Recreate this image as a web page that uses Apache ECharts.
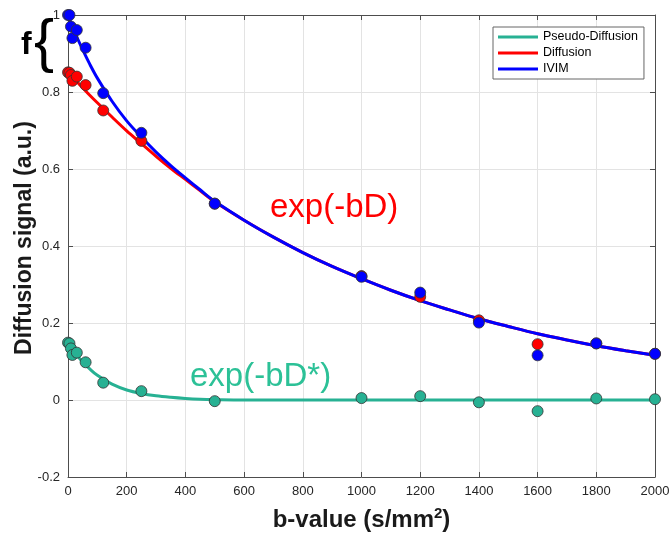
<!DOCTYPE html>
<html><head><meta charset="utf-8">
<script src="https://cdn.jsdelivr.net/npm/echarts@6/dist/echarts.min.js"></script>
<style>html,body{margin:0;padding:0;background:#fff}#c{width:672px;height:535px}</style>
</head><body><div id="c"></div><script>
// measured data points
const bValues = [0, 5, 10, 15, 30, 60, 120, 250, 500, 1000, 1200, 1400, 1600, 1800, 2000];
const ivimSignal = [1.0, 1.0, 0.97, 0.94, 0.961, 0.915, 0.797, 0.694, 0.51, 0.32, 0.279, 0.201, 0.116, 0.147, 0.12];
const diffusionSignal = [0.851, 0.85, 0.844, 0.829, 0.84, 0.818, 0.752, 0.673, 0.51, 0.322, 0.268, 0.207, 0.145, 0.147, 0.12];
const pseudoSignal = [0.149, 0.147, 0.134, 0.117, 0.123, 0.098, 0.045, 0.023, -0.003, 0.005, 0.01, -0.006, -0.029, 0.004, 0.002];
// fitted curves
const fitB = [0, 25, 50, 75, 100, 150, 200, 250, 300, 350, 400, 450, 500, 600, 700, 800, 900, 1000, 1100, 1200, 1300, 1400, 1500, 1600, 1700, 1800, 1900, 2000];
const fitIVIM = [1.0, 0.952, 0.910, 0.871, 0.836, 0.776, 0.725, 0.683, 0.644, 0.609, 0.577, 0.546, 0.516, 0.467, 0.423, 0.383, 0.347, 0.315, 0.285, 0.258, 0.234, 0.211, 0.191, 0.172, 0.156, 0.141, 0.128, 0.116];
const fitDiffusion = [0.852, 0.831, 0.811, 0.791, 0.772, 0.735, 0.699, 0.666, 0.633, 0.602, 0.573, 0.544, 0.515, 0.467, 0.423, 0.383, 0.347, 0.315, 0.285, 0.258, 0.234, 0.211, 0.191, 0.172, 0.156, 0.141, 0.128, 0.116];
const fitPseudo = [0.150, 0.121, 0.099, 0.080, 0.064, 0.041, 0.026, 0.017, 0.011, 0.007, 0.004, 0.002, 0.001, 0, 0, 0, 0, 0, 0, 0, 0, 0, 0, 0, 0, 0, 0, 0];
const seriesNames = ['Pseudo-Diffusion', 'Diffusion', 'IVIM'];
const xRange = [0, 2000, 200];
const yRange = [-0.2, 1, 0.2];

const C_TEAL = '#27b193', C_RED = '#ff0000', C_BLUE = '#0000ff';
const FONT = 'Liberation Sans, Arial, Helvetica, sans-serif';
const zip = (xs, ys) => xs.map((x, i) => [x, ys[i]]);

const chart = echarts.init(document.getElementById('c'), null, {renderer: 'canvas'});
const axisLine = {show: true, onZero: false, lineStyle: {color: '#4d4d4d', width: 1}};
const tick = {show: true, inside: true, length: 5, lineStyle: {color: '#4d4d4d'}};
const lineSeries = (name, data, color, z) => ({
  name, type: 'line', data, showSymbol: false, smooth: 0.35,
  lineStyle: {color, width: 3}, itemStyle: {color}, z, animation: false
});
const pointSeries = (name, data, color, z) => ({
  name, type: 'scatter', data, symbol: 'circle', symbolSize: 11,
  itemStyle: {color, borderColor: '#333', borderWidth: 0.8, opacity: 1}, z, animation: false
});

chart.setOption({
  animation: false,
  backgroundColor: '#fff',
  grid: {left: 68, right: 17, top: 15, bottom: 58, containLabel: false, outerBoundsMode: 'none'},
  xAxis: [{
    type: 'value', min: xRange[0], max: xRange[1], interval: xRange[2],
    name: '{a|b-value (s/mm}{s|2}{a|)}', nameLocation: 'middle', nameGap: 29, nameMoveOverlap: false,
    nameTextStyle: {rich: {
      a: {fontSize: 24, fontWeight: 'bold', fontFamily: FONT, color: '#1a1a1a', lineHeight: 28},
      s: {fontSize: 15, fontWeight: 'bold', fontFamily: FONT, color: '#1a1a1a', verticalAlign: 'top', lineHeight: 28}
    }},
    axisLine, axisTick: tick,
    axisLabel: {fontSize: 13, fontFamily: FONT, color: '#262626', margin: 8, formatter: v => String(v)},
    splitLine: {show: true, lineStyle: {color: '#e3e3e3', width: 1}}
  }, {
    type: 'value', position: 'top', min: xRange[0], max: xRange[1], interval: xRange[2],
    axisLine, axisTick: tick, axisLabel: {show: false}, splitLine: {show: false}
  }],
  yAxis: [{
    type: 'value', min: yRange[0], max: yRange[1], interval: yRange[2],
    name: 'Diffusion signal (a.u.)', nameLocation: 'middle', nameGap: 32, nameRotate: 90, nameMoveOverlap: false,
    nameTextStyle: {fontSize: 23, fontWeight: 'bold', fontFamily: FONT, color: '#1a1a1a', padding: [0, 0, 0, 16]},
    axisLine, axisTick: tick,
    axisLabel: {fontSize: 13, fontFamily: FONT, color: '#262626', margin: 8,
      formatter: v => String(Math.round(v * 10) / 10)},
    splitLine: {show: true, lineStyle: {color: '#e3e3e3', width: 1}}
  }, {
    type: 'value', position: 'right', min: yRange[0], max: yRange[1], interval: yRange[2],
    axisLine, axisTick: tick, axisLabel: {show: false}, splitLine: {show: false}
  }],
  legend: {
    data: seriesNames.map(n => ({name: n, icon: 'rect'})),
    orient: 'vertical', left: 493, top: 27,
    itemWidth: 40, itemHeight: 3, itemGap: 2,
    padding: [3, 6, 3, 5],
    borderColor: '#666', borderWidth: 1, backgroundColor: '#fff',
    textStyle: {fontSize: 12.5, fontFamily: FONT, color: '#000', lineHeight: 14},
    selectedMode: false
  },
  series: [
    lineSeries(seriesNames[0], zip(fitB, fitPseudo), C_TEAL, 2),
    lineSeries(seriesNames[1], zip(fitB, fitDiffusion), C_RED, 3),
    lineSeries(seriesNames[2], zip(fitB, fitIVIM), C_BLUE, 4),
    pointSeries('Diffusion data', zip(bValues, diffusionSignal), C_RED, 5),
    pointSeries('IVIM data', zip(bValues, ivimSignal), C_BLUE, 6),
    pointSeries('Pseudo-Diffusion data', zip(bValues, pseudoSignal), C_TEAL, 7)
  ],
  graphic: [
    {type: 'text', left: 270, top: 191, z: 10, style: {text: 'exp(-bD)', font: '33px ' + FONT, fill: '#ff0000'}},
    {type: 'text', left: 190, top: 360, z: 10, style: {text: 'exp(-bD*)', font: '33px ' + FONT, fill: '#2cc197'}},
    {type: 'text', left: 21, top: 29, z: 10, style: {text: 'f', font: 'bold 32px ' + FONT, fill: '#000'}},
    {type: 'text', left: 34, top: 14, z: 10, style: {text: '{', font: '60px ' + FONT, fill: '#000'}}
  ]
});
</script></body></html>
